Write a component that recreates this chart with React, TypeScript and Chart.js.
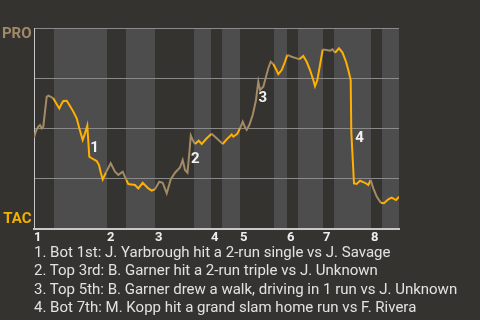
import React, { useEffect, useRef } from "react";
import { Chart, registerables } from "chart.js";

Chart.register(...registerables);

// game progress (0..100 across the game) and PRO win probability (%)
const progress = [
  0, 0.55, 1.18, 1.64, 2.11, 2.55, 3.01, 3.48, 3.92, 4.66, 5.29, 6.03, 6.93, 7.53, 8.03, 8.96,
  9.86, 10.77, 11.7, 12.41, 13.34, 13.97, 14.6, 14.88, 15.15, 15.81, 17.18, 17.81, 18.27, 18.82,
  19.73, 21.01, 22.19, 23.1, 24.3, 25.29, 25.84, 27.67, 28.58, 29.78, 31.32, 32.25, 33.15, 34.33,
  35.26, 36.36, 37.45, 38.63, 40.0, 40.74, 41.37, 42.05, 42.55, 42.96, 43.48, 44.11, 45.12, 45.95,
  47.26, 48.68, 50.05, 51.7, 52.79, 54.16, 54.6, 55.7, 56.44, 57.18, 57.81, 58.27, 58.99, 59.92,
  60.82, 61.45, 61.92, 62.82, 63.56, 64.19, 64.85, 65.56, 66.3, 66.93, 67.86, 68.77, 69.4, 70.6,
  71.97, 72.68, 73.78, 74.71, 75.62, 76.52, 76.99, 77.62, 78.36, 79.1, 80.19, 81.1, 81.78, 82.47,
  83.56, 84.52, 85.48, 86.11, 86.77, 86.93, 87.32, 87.67, 88.41, 89.32, 90.68, 91.59, 92.25, 92.96,
  93.89, 94.99, 95.89, 97.07, 98.0, 99.18, 100,
];
const winProb = [
  45.4, 48.8, 50.9, 51.7, 50.1, 50.9, 58.4, 65.8, 66.3, 65.7, 65.0, 62.7, 60.0, 62.2, 63.7, 63.8,
  61.2, 58.4, 55.1, 50.1, 44.3, 47.6, 51.4, 43.4, 36.0, 35.2, 33.8, 31.8, 28.2, 24.7,
  28.2, 32.7, 28.5, 26.9, 28.5, 24.4, 22.4, 21.9, 20.2, 23.0, 20.2, 19.1, 19.8, 23.5,
  23.0, 17.7, 24.7, 28.0, 30.6, 34.3, 29.4, 28.0, 37.7, 46.5, 44.3, 42.3, 43.9, 42.3,
  45.0, 47.4, 45.1, 42.3, 44.6, 47.0, 45.9, 47.3, 50.1, 53.4, 50.6, 49.3, 51.7, 56.7,
  64.2, 73.3, 69.2, 70.8, 75.8, 80.0, 83.2, 82.1, 79.5, 77.0, 79.1, 83.2, 86.6, 85.7,
  84.9, 84.4, 86.1, 83.2, 79.1, 74.1, 71.0, 74.1, 81.6, 89.3, 89.1, 88.7, 89.4, 87.7,
  89.9, 87.8, 83.2, 79.1, 74.1, 48.3, 34.8, 22.7, 22.4, 24.0, 23.0, 21.9, 24.4, 20.2,
  16.1, 13.1, 12.8, 14.8, 15.6, 14.4, 16.1,
];

// half-inning starts (top 1st, bot 1st, top 2nd, ...)
const halfInningStarts = [
  0, 5.48, 20.0, 25.2, 33.15, 43.84, 48.49, 51.51, 56.44, 65.75, 69.32, 72.33, 79.18, 82.19, 92.33, 95.34,
];
const gameEnd = 100;
const inningLabels = ["1", "2", "3", "4", "5", "6", "7", "8"];

const sideLabels = ["TAC", "PRO"];
const sideLabelValues = [4.7, 97];
const sideLabelColors = ["#f5b100", "#a08a68"];

const eventNumbers = ["1", "2", "3", "4"];
const eventX = [16.6, 44.2, 62.7, 89.2];
const eventY = [40.3, 34.8, 64.9, 45.0];
const eventTexts = [
  "1. Bot 1st: J. Yarbrough hit a 2-run single vs J. Savage",
  "2. Top 3rd: B. Garner hit a 2-run triple vs J. Unknown",
  "3. Top 5th: B. Garner drew a walk, driving in 1 run vs J. Unknown",
  "4. Bot 7th: M. Kopp hit a grand slam home run vs F. Rivera",
];

const BG = "#353330";
const BAND = "#4d4d4d";
const ORANGE = "#ffb000";
const TAN = "#a38b66";

function halfIndex(x: number): number {
  let idx = 0;
  for (let i = 0; i < halfInningStarts.length; i++) {
    if (halfInningStarts[i] <= x) idx = i;
  }
  return idx;
}

const bandsPlugin = {
  id: "bands",
  beforeDraw(chart: any) {
    const { ctx, chartArea, scales } = chart;
    const xs = scales.x;
    ctx.save();
    ctx.fillStyle = BG;
    ctx.fillRect(0, 0, chart.width, chart.height);
    ctx.fillStyle = BAND;
    for (let i = 1; i < halfInningStarts.length; i += 2) {
      const a = xs.getPixelForValue(halfInningStarts[i]);
      const b = xs.getPixelForValue(i + 1 < halfInningStarts.length ? halfInningStarts[i + 1] : gameEnd);
      ctx.fillRect(a, chartArea.top, b - a, chartArea.bottom - chartArea.top);
    }
    ctx.restore();
  },
};

const eventsPlugin = {
  id: "events",
  afterDatasetsDraw(chart: any) {
    const { ctx, scales } = chart;
    ctx.save();
    ctx.font = "bold 15px Roboto";
    ctx.fillStyle = "#f2f2f2";
    ctx.textAlign = "center";
    ctx.textBaseline = "middle";
    eventNumbers.forEach((t, i) => {
      ctx.fillText(t, scales.x.getPixelForValue(eventX[i]), scales.y.getPixelForValue(eventY[i]));
    });
    ctx.restore();
  },
};

export default function App() {
  const ref = useRef<HTMLCanvasElement>(null);

  useEffect(() => {
    document.body.style.margin = "0";
    document.body.style.background = BG;
    const points = progress.map((x, i) => ({ x, y: winProb[i] }));
    const inningStarts = halfInningStarts.filter((_, i) => i % 2 === 0);
    const chart = new Chart(ref.current as HTMLCanvasElement, {
      type: "line",
      data: {
        datasets: [
          {
            data: points,
            borderWidth: 2,
            pointRadius: 0,
            tension: 0,
            borderColor: ORANGE,
            segment: {
              borderColor: (c: any) => {
                const mid = (c.p0.parsed.x + c.p1.parsed.x) / 2;
                return halfIndex(mid) % 2 === 0 ? TAN : ORANGE;
              },
            },
          },
        ],
      },
      options: {
        responsive: false,
        animation: false,
        devicePixelRatio: 1,
        layout: { padding: { left: 0, right: 81, top: 28, bottom: 71 } },
        plugins: { legend: { display: false }, tooltip: { enabled: false } },
        scales: {
          x: {
            type: "linear",
            min: 0,
            max: gameEnd,
            grid: { display: false, drawTicks: false },
            border: { display: true, color: "#c8c8c8", width: 2 },
            afterBuildTicks: (s: any) => {
              s.ticks = inningStarts.map((v) => ({ value: v }));
            },
            afterFit: (s: any) => {
              s.height = 20;
            },
            ticks: {
              autoSkip: false,
              maxRotation: 0,
              align: "start",
              padding: 1,
              color: "#eeeeee",
              font: { family: "Roboto", weight: "bold", size: 13 },
              callback: (_v: any, i: number) => inningLabels[i],
            },
          },
          y: {
            position: "left",
            weight: 0,
            min: 0,
            max: 100,
            ticks: { stepSize: 25, display: false },
            grid: { color: "#8a8a8a", lineWidth: 1, drawTicks: false },
            border: { display: true, color: "#c8c8c8", width: 1 },
            afterFit: (s: any) => {
              s.width = 0;
            },
          },
          yLab: {
            position: "left",
            weight: 1,
            min: 0,
            max: 100,
            grid: { display: false, drawTicks: false },
            border: { display: false },
            afterBuildTicks: (s: any) => {
              s.ticks = sideLabelValues.map((v) => ({ value: v }));
            },
            afterFit: (s: any) => {
              s.width = 34;
            },
            ticks: {
              autoSkip: false,
              padding: 2.5,
              color: (c: any) => sideLabelColors[c.index],
              font: { family: "Roboto", weight: "bold", size: 15 },
              callback: (_v: any, i: number) => sideLabels[i],
            },
          },
        },
      },
      plugins: [bandsPlugin, eventsPlugin],
    } as any);
    return () => chart.destroy();
  }, []);

  return (
    <div style={{ position: "relative", width: 480, height: 320, background: BG, overflow: "hidden" }}>
      <canvas ref={ref} width={480} height={320} style={{ display: "block", width: 480, height: 320 }} />
      <div
        style={{
          position: "absolute",
          left: 34,
          top: 243,
          fontFamily: "Roboto",
          fontSize: 15,
          lineHeight: "18.4px",
          color: "#e2e2e2",
          whiteSpace: "nowrap",
        }}
      >
        {eventTexts.map((t, i) => (
          <div key={i}>{t}</div>
        ))}
      </div>
    </div>
  );
}
